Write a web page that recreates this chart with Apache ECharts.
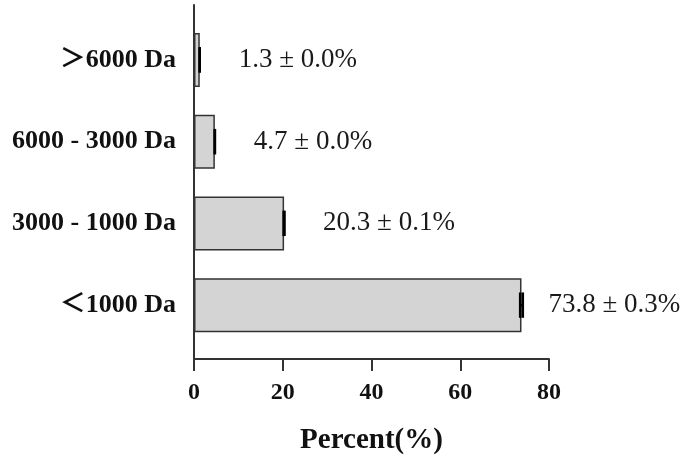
<!DOCTYPE html>
<html><head><meta charset="utf-8">
<script src="https://cdn.jsdelivr.net/npm/echarts@6/dist/echarts.min.js"></script>
<style>html,body{margin:0;padding:0;background:#fff}#c{width:685px;height:462px}</style>
</head><body><div id="c"></div>
<script>
const categories = ['＞6000 Da', '6000 - 3000 Da', '3000 - 1000 Da', '＜1000 Da'];
const values = [1.3, 4.7, 20.3, 73.8];
const errors = [0.0, 0.0, 0.1, 0.3];
const xTicks = [0, 20, 40, 60, 80];

const serif = '"Liberation Serif", "Times New Roman", "Noto Sans CJK SC", serif';
const labelGaps = values.map(v => v > 50 ? 27 : 39);

const chart = echarts.init(document.getElementById('c'));
chart.setOption({
  animation: false,
  backgroundColor: '#fff',
  grid: [
    { left: 194, width: 355, top: 19, height: 327 },
    { left: 194, width: 355, top: 5, bottom: 103 }
  ],
  xAxis: [
    { gridIndex: 0, type: 'value', min: xTicks[0], max: xTicks[xTicks.length-1], show: false },
    { gridIndex: 1, type: 'value', min: xTicks[0], max: xTicks[xTicks.length-1], interval: 20,
      axisLine: { show: true, lineStyle: { color: '#333', width: 2 } },
      axisTick: { show: true, length: 12, lineStyle: { color: '#333', width: 2 } },
      splitLine: { show: false },
      axisLabel: { margin: 22, fontFamily: serif, fontWeight: 'bold', fontSize: 24, color: '#111' },
      name: 'Percent(%)', nameLocation: 'middle', nameGap: 67,
      nameTextStyle: { fontFamily: serif, fontWeight: 'bold', fontSize: 29, color: '#111' }
    }
  ],
  yAxis: [
    { gridIndex: 0, type: 'category', data: categories, inverse: true,
      axisLine: { show: false }, axisTick: { show: false },
      axisLabel: { margin: 18, fontFamily: serif, fontWeight: 'bold', fontSize: 26, color: '#111' }
    },
    { gridIndex: 1, type: 'value', min: 0, max: 1,
      axisLine: { show: true, lineStyle: { color: '#333', width: 2 } },
      axisTick: { show: false }, axisLabel: { show: false }, splitLine: { show: false }
    }
  ],
  series: [
    {
      type: 'bar', xAxisIndex: 0, yAxisIndex: 0, barWidth: 54,
      itemStyle: { color: '#d4d4d4', borderColor: '#333', borderWidth: 1.5 },
      data: values.map((v, i) => ({
        value: v,
        label: { show: true, position: 'right', distance: labelGaps[i] }
      })),
      label: {
        fontFamily: serif, fontSize: 27, color: '#1a1a1a',
        formatter: p => values[p.dataIndex].toFixed(1) + ' ± ' + errors[p.dataIndex].toFixed(1) + '%'
      }
    },
    {
      type: 'custom', xAxisIndex: 0, yAxisIndex: 0, z: 5,
      data: values.map((v, i) => [v, i, errors[i]]),
      encode: { x: 0, y: 1 },
      renderItem: function (params, api) {
        const v = api.value(0), i = api.value(1), e = api.value(2);
        const lo = api.coord([v - e, i]);
        const hi = api.coord([v + e, i]);
        const h = api.size([0, 1])[1] * 0.155;
        const st = { stroke: '#000', lineWidth: 2.5 };
        return { type: 'group', children: [
          { type: 'line', shape: { x1: lo[0], y1: lo[1] - h, x2: lo[0], y2: lo[1] + h }, style: st },
          { type: 'line', shape: { x1: hi[0], y1: hi[1] - h, x2: hi[0], y2: hi[1] + h }, style: st },
          { type: 'line', shape: { x1: lo[0], y1: lo[1], x2: hi[0], y2: hi[1] }, style: st }
        ]};
      }
    }
  ]
});
</script>
</body></html>
